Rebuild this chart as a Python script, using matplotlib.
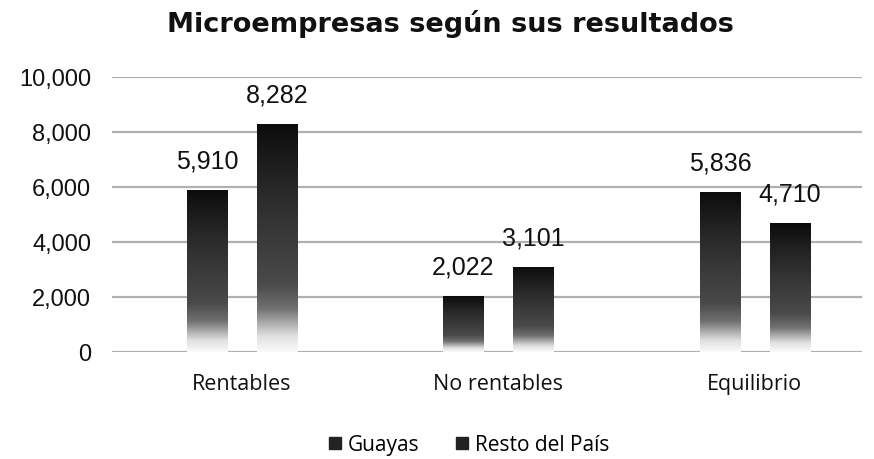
import numpy as np
import matplotlib
matplotlib.use("Agg")
import matplotlib.pyplot as plt
from matplotlib.colors import LinearSegmentedColormap
from matplotlib.patches import Rectangle
from matplotlib.lines import Line2D

categories = ["Rentables", "No rentables", "Equilibrio"]
series_names = ["Guayas", "Resto del País"]
guayas = [5910, 2022, 5836]
resto = [8282, 3101, 4710]
yticks = [0, 2000, 4000, 6000, 8000, 10000]
title = "Microempresas según sus resultados"

fig = plt.figure(figsize=(8.74, 4.59), dpi=100)
ax = fig.add_axes([0.128, 0.2331, 0.858, 0.599])

cmap = LinearSegmentedColormap.from_list(
    "g", [(0.0, "#fafafa"), (0.07, "#e0e0e0"), (0.19, "#707070"), (0.3, "#4a4a4a"),
          (0.7, "#2a2a2a"), (1.0, "#0c0c0c")])
grad = np.linspace(0, 1, 256).reshape(-1, 1)

width = 0.156
offset = 0.136
x = np.arange(len(categories))
for vals, off in [(guayas, -offset), (resto, offset)]:
    for xi, v in zip(x, vals):
        x0 = xi + off - width / 2
        im = ax.imshow(grad, cmap=cmap, aspect="auto", origin="lower",
                       extent=[x0, x0 + width, 0, v], zorder=3, interpolation="bilinear")
        r = Rectangle((x0, 0), width, v, transform=ax.transData, facecolor="none", edgecolor="none")
        ax.add_patch(r)
        im.set_clip_path(r)
        ax.text(xi + off, v + 600, f"{v:,}", ha="center", va="bottom",
                fontsize=18, family="Liberation Sans", color="#111111", zorder=4)

ax.set_xlim(-0.507, 2.417)
ax.set_ylim(0, 10000)
ax.set_yticks(yticks)
ax.set_yticklabels([f"{t:,}" for t in yticks], fontsize=17, family="Liberation Sans", color="#111111")
ax.set_xticks(x)
ax.set_xticklabels(categories, fontsize=15.5, family="Open Sans", color="#111111")
ax.tick_params(axis="y", length=0, pad=15)
ax.tick_params(axis="x", length=0, pad=16)
for s in ax.spines.values():
    s.set_visible(False)
ax.grid(axis="y", color="#b0b0b0", linewidth=1.6, zorder=0)
ax.set_axisbelow(True)

fig.text(0.515, 0.948, title, ha="center", va="center", fontsize=19.5, fontweight="bold",
         family="DejaVu Sans", color="#111111")

handles = [Line2D([], [], marker="s", linestyle="none", markersize=9,
                  markerfacecolor="#222222", markeredgecolor="#222222") for _ in series_names]
fig.legend(handles, series_names, loc="center", bbox_to_anchor=(0.535, 0.03), ncol=2,
           frameon=False, prop={"family": "Open Sans", "size": 15}, handletextpad=0.15,
           columnspacing=1.6, handlelength=0.9)

fig.savefig("out.png", dpi=100)
